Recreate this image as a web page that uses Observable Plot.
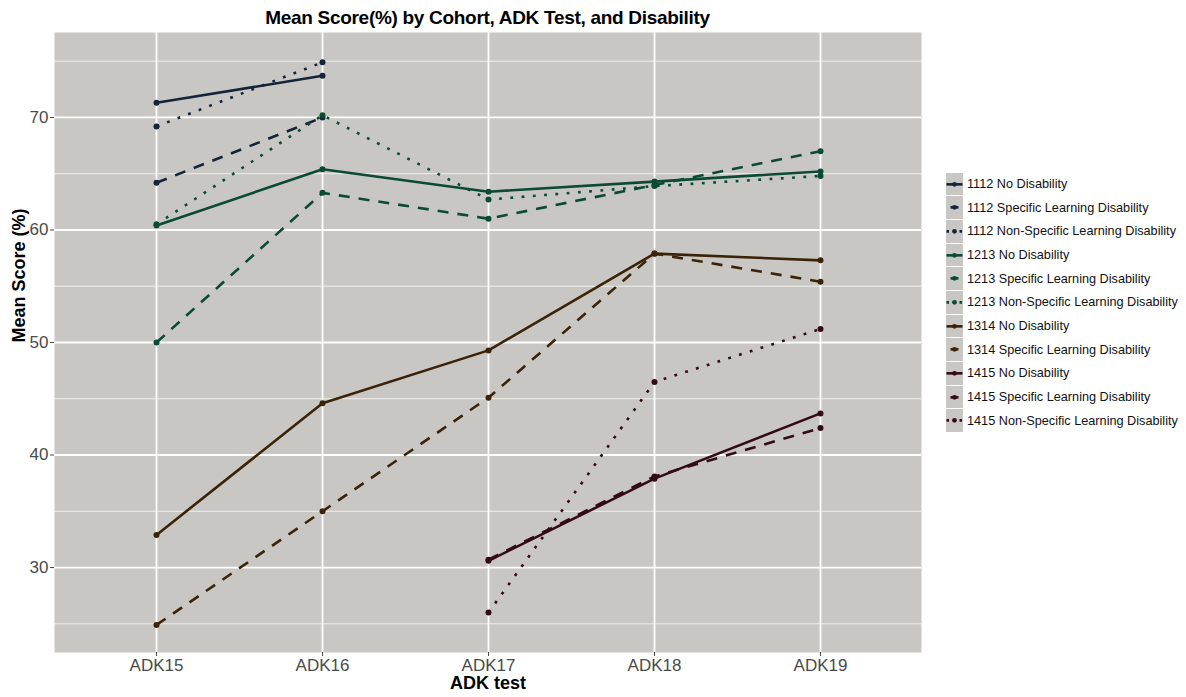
<!DOCTYPE html>
<html>
<head>
<meta charset="utf-8">
<script src="https://cdn.jsdelivr.net/npm/d3@7"></script>
<script src="https://cdn.jsdelivr.net/npm/@observablehq/plot@0.6"></script>
<style>
  html, body { margin: 0; padding: 0; background: #fff; }
  body { width: 1186px; height: 697px; position: relative; overflow: hidden; font-family: "Liberation Sans", Arial, sans-serif; }
  #title { position: absolute; left: 0; top: 0; width: 975px; height: 32px; line-height: 32px; text-align: center; font-weight: bold; font-size: 19px; color: #000; padding-top: 2px; box-sizing: border-box; letter-spacing: -0.3px; }
  #chart { position: absolute; left: 0; top: 32px; }
  #legend { position: absolute; left: 946px; top: 172px; }
  .item { display: flex; align-items: center; height: 23.7px; }
  .key { width: 17px; height: 22.7px; background: #c9c7c3; margin-right: 4px; display: block; }
  .lab { font-size: 12.7px; color: #111; white-space: nowrap; }
</style>
</head>
<body>
<div id="title">Mean Score(%) by Cohort, ADK Test, and Disability</div>
<div id="chart"></div>
<div id="legend"></div>
<script>
// ---- data ----
const tests = ["ADK15", "ADK16", "ADK17", "ADK18", "ADK19"];
const cohorts = ["1112", "1213", "1314", "1415"];
const cohortColors = ["#15233b", "#0b4a35", "#3a2308", "#330b13"];
const disabilityTypes = ["No Disability", "Specific Learning Disability", "Non-Specific Learning Disability"];
const dashPatterns = ["none", "11,9", "2.8,8.5"];

// values per series, aligned with tests (null = not measured)
const s1112_ND   = [71.3, 73.7, null, null, null];
const s1112_SLD  = [64.2, 70.0, null, null, null];
const s1112_NSLD = [69.2, 74.9, null, null, null];
const s1213_ND   = [60.4, 65.4, 63.4, 64.3, 65.2];
const s1213_SLD  = [50.0, 63.3, 61.0, 64.0, 67.0];
const s1213_NSLD = [60.5, 70.2, 62.7, 63.9, 64.8];
const s1314_ND   = [32.9, 44.6, 49.3, 57.9, 57.3];
const s1314_SLD  = [24.9, 35.0, 45.1, 57.9, 55.4];
const s1415_ND   = [null, null, 30.6, 37.9, 43.7];
const s1415_SLD  = [null, null, 30.7, 38.1, 42.4];
const s1415_NSLD = [null, null, 26.0, 46.5, 51.2];

const seriesList = [
  ["1112", 0, s1112_ND], ["1112", 1, s1112_SLD], ["1112", 2, s1112_NSLD],
  ["1213", 0, s1213_ND], ["1213", 1, s1213_SLD], ["1213", 2, s1213_NSLD],
  ["1314", 0, s1314_ND], ["1314", 1, s1314_SLD],
  ["1415", 0, s1415_ND], ["1415", 1, s1415_SLD], ["1415", 2, s1415_NSLD]
];

const yTicks = [30, 40, 50, 60, 70];
const yMinor = [25, 35, 45, 55, 65, 75];

// ---- long table ----
const rows = [];
for (const [cohort, type, vals] of seriesList) {
  vals.forEach((v, i) => {
    if (v != null) rows.push({cohort, type, series: cohort + " " + disabilityTypes[type], test: tests[i], value: v});
  });
}

const lineMarks = disabilityTypes.map((t, k) =>
  Plot.line(rows.filter(d => d.type === k), {
    x: "test", y: "value", z: "series", stroke: "cohort",
    strokeWidth: 2.6, strokeDasharray: dashPatterns[k] === "none" ? undefined : dashPatterns[k],
    strokeLinecap: "butt"
  })
);

const chart = Plot.plot({
  width: 1186,
  height: 665,
  marginTop: 0,
  marginLeft: 54,
  marginRight: 265,
  marginBottom: 45,
  style: {fontFamily: "'Liberation Sans', Arial, sans-serif", background: "transparent"},
  x: {type: "point", domain: tests, padding: 0.6},
  y: {domain: [22.45, 77.55]},
  color: {domain: cohorts, range: cohortColors},
  marks: [
    Plot.frame({fill: "#c9c7c3", stroke: null}),
    Plot.ruleY(yMinor, {stroke: "#f4f4f2", strokeWidth: 0.9}),
    Plot.ruleY(yTicks, {stroke: "#ffffff", strokeWidth: 1.8}),
    Plot.ruleX(tests, {stroke: "#ffffff", strokeWidth: 1.8}),
    ...lineMarks,
    Plot.dot(rows, {x: "test", y: "value", fill: "cohort", r: 3}),
    Plot.axisY(yTicks, {tickSize: 4, tickPadding: 2, fontSize: 17, color: "#4a4a4a", label: null}),
    Plot.axisX(tests, {tickSize: 4, tickPadding: 2, fontSize: 17, color: "#4a4a4a", label: null}),
    Plot.text(["Mean Score (%)"], {frameAnchor: "left", dx: -35, rotate: -90, fontWeight: "bold", fontSize: 18, fill: "#000"}),
    Plot.text(["ADK test"], {frameAnchor: "bottom", dy: 36, fontWeight: "bold", fontSize: 18, fill: "#000"})
  ]
});
document.getElementById("chart").appendChild(chart);

// ---- legend ----
const legend = document.getElementById("legend");
for (const [cohort, type] of seriesList) {
  const color = cohortColors[cohorts.indexOf(cohort)];
  const item = document.createElement("div");
  item.className = "item";
  const dash = dashPatterns[type] === "none" ? "" : ` stroke-dasharray="${type === 1 ? "8,6" : "2.5,4"}"`;
  const offset = type === 1 ? ` stroke-dashoffset="-4"` : "";
  item.innerHTML = `<svg class="key" width="17" height="22.7"><rect width="17" height="22.7" fill="#c9c7c3"/>` +
    `<line x1="0.5" x2="16.5" y1="11.35" y2="11.35" stroke="${color}" stroke-width="2.6"${dash}${offset}/>` +
    `<circle cx="8.5" cy="11.35" r="2.4" fill="${color}"/></svg>` +
    `<span class="lab">${cohort} ${disabilityTypes[type]}</span>`;
  legend.appendChild(item);
}
</script>
</body>
</html>
